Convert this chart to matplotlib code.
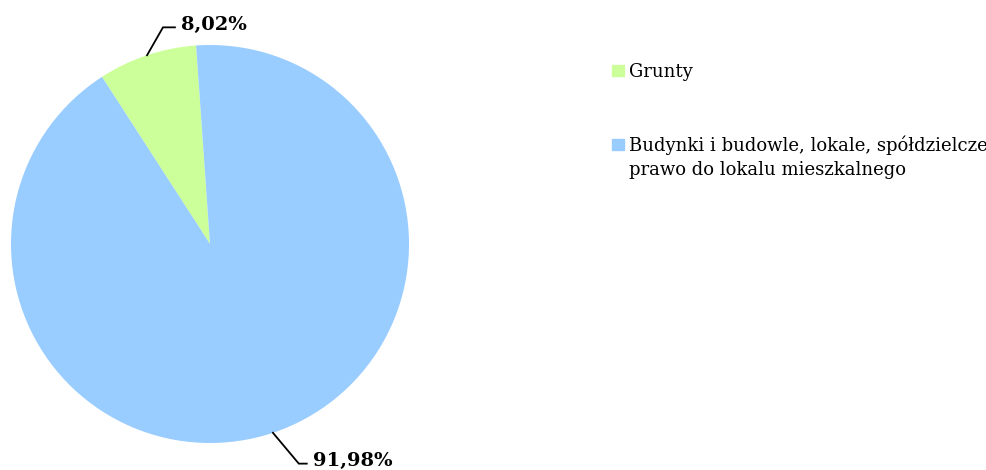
import numpy as np
import matplotlib.pyplot as plt
from matplotlib.patches import Rectangle

# ---------- Data ----------
labels = ["Grunty", "Budynki i budowle, lokale, spółdzielcze\nprawo do lokalu mieszkalnego"]
values = [8.02, 91.98]
value_labels = ["8,02%", "91,98%"]
colors = ["#CCFF99", "#99CCFF"]

W, H = 987, 470
fig = plt.figure(figsize=(W / 100, H / 100), dpi=100)
plt.rcParams['font.family'] = ['DejaVu Serif']

# pie axes: centre (210, 244) px, radius 199 px
cx, cy, r = 210, 244, 199
ax = fig.add_axes([(cx - r) / W, (H - cy - r) / H, 2 * r / W, 2 * r / H])
wedges, _ = ax.pie(values, colors=colors, startangle=94, counterclock=True,
                   radius=1.0, wedgeprops=dict(linewidth=0))
ax.set_xlim(-1, 1)
ax.set_ylim(-1, 1)
ax.set_aspect('equal')
ax.axis('off')

# leader lines and value labels
# (elbow offset dx, dy; horizontal length; text baseline offset)
leader = [(0.08, 0.14, 0.06, -0.012), (0.13, -0.155, 0.04, -0.012)]
for w, txt, (ldx, ldy, hl, tdy) in zip(wedges, value_labels, leader):
    ang = np.deg2rad((w.theta1 + w.theta2) / 2)
    x0, y0 = np.cos(ang), np.sin(ang)
    x1, y1 = x0 + ldx, y0 + ldy
    x2 = x1 + hl
    ax.plot([x0, x1, x2], [y0, y1, y1], color='black', lw=1.3, clip_on=False,
            solid_joinstyle='miter')
    ax.text(x2 + 0.03, y1 + tdy, txt, fontsize=14, fontweight='bold',
            ha='left', va='baseline', clip_on=False)

# legend drawn by hand in pixel positions (baseline of first line, line step)
leg_base = [77, 151]
line_step = 24
for lab, col, yb in zip(labels, colors, leg_base):
    fig.patches.append(Rectangle((612 / W, (H - yb + 1) / H), 12 / W, 11 / H,
                                 transform=fig.transFigure, color=col))
    for i, line in enumerate(lab.split("\n")):
        fig.text(629 / W, (H - yb - i * line_step) / H, line, fontsize=13,
                 ha='left', va='baseline')

fig.savefig("out.png", dpi=100)
